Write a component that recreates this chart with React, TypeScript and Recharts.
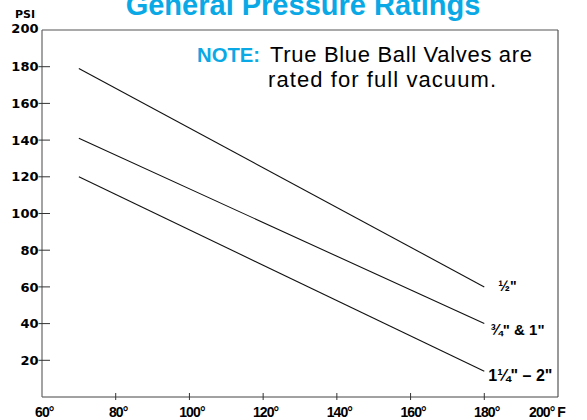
import React from 'react';
import { LineChart, Line, XAxis, YAxis, ReferenceLine } from 'recharts';

// Temperatures (°F) at which each rating line is drawn
const temps = [70, 180];
// Pressure ratings (PSI) per valve size
const halfInch = [179, 60];
const threeQuarterToOne = [141, 40];
const oneQuarterToTwo = [120, 14];
const seriesLabels = ['½"', '¾" & 1"', '1¼" – 2"'];
const xTicks = [60, 80, 100, 120, 140, 160, 180, 200];
const yTicks = [20, 40, 60, 80, 100, 120, 140, 160, 180, 200];

const data = temps.map((t, i) => ({
  temp: t,
  half: halfInch[i],
  tq: threeQuarterToOne[i],
  oq: oneQuarterToTwo[i],
}));

const BLUE = '#0AA9E6';

function XTick(props: any) {
  const { x, y, payload } = props;
  const v = payload.value;
  let tx = x + 2.5;
  let anchor: any = 'middle';
  let label = `${v}°`;
  if (v === 60) {
    tx = x - 7;
    anchor = 'start';
  }
  if (v === 200) {
    tx = x - 29;
    anchor = 'start';
    label = '200° F';
  }
  return (
    <g>
      {v !== 60 && v !== 200 && (
        <line x1={x} x2={x} y1={y - 4} y2={y + 3} stroke="#333" strokeWidth={1} />
      )}
      <text
        x={tx}
        y={y + 20}
        textAnchor={anchor}
        fontFamily="'Liberation Sans', Arial, sans-serif"
        fontWeight="bold"
        fontSize={14}
        letterSpacing={-0.9}
        fill="#000"
      >
        {label}
      </text>
    </g>
  );
}

function YTick(props: any) {
  const { x, y, payload } = props;
  const v = payload.value;
  return (
    <g>
      {v !== 200 && (
        <line x1={x - 3.5} x2={x + 8} y1={y} y2={y} stroke="#333" strokeWidth={1} />
      )}
      <text
        x={x - 3.5}
        y={v === 200 ? y + 3 : y + 4.6}
        textAnchor="end"
        fontFamily="'DejaVu Sans', sans-serif"
        fontWeight="bold"
        fontSize={13}
        fill="#000"
      >
        {v}
      </text>
    </g>
  );
}

function makeEndLabel(text: string, dx: number, dy: number, size: number) {
  return (p: any) => {
    if (p.index !== temps.length - 1) return <g />;
    return (
      <text
        x={p.x + dx}
        y={p.y + dy}
        fontFamily="'Liberation Sans', Arial, sans-serif"
        fontWeight="bold"
        fontSize={size}
        fill="#000"
      >
        {text}
      </text>
    );
  };
}

export default function App() {
  return (
    <div style={{ position: 'absolute', left: 0, top: 0, width: 587, height: 420, background: '#fff' }}>
      <LineChart
        width={587}
        height={420}
        data={data}
        margin={{ top: 30, right: 29, bottom: 0, left: 0 }}
      >
        <XAxis
          dataKey="temp"
          type="number"
          domain={[60, 200]}
          ticks={xTicks}
          interval={0}
          height={23}
          tickLine={false}
          tickSize={0}
          tickMargin={0}
          axisLine={{ stroke: '#444', strokeWidth: 1 }}
          tick={<XTick />}
        />
        <YAxis
          type="number"
          domain={[0, 200]}
          ticks={yTicks}
          interval={0}
          width={42}
          tickLine={false}
          tickSize={0}
          tickMargin={0}
          axisLine={{ stroke: '#666', strokeWidth: 1.2 }}
          tick={<YTick />}
        />
        <ReferenceLine y={200} stroke="#555" strokeWidth={1.2} />
        <ReferenceLine x={200} stroke="#555" strokeWidth={1.2} />
        <Line
          dataKey="half"
          stroke="#111"
          strokeWidth={1.1}
          dot={false}
          isAnimationActive={false}
          label={makeEndLabel(seriesLabels[0], 14, 4, 14)}
        />
        <Line
          dataKey="tq"
          stroke="#111"
          strokeWidth={1.1}
          dot={false}
          isAnimationActive={false}
          label={makeEndLabel(seriesLabels[1], 6, 11, 15)}
        />
        <Line
          dataKey="oq"
          stroke="#111"
          strokeWidth={1.1}
          dot={false}
          isAnimationActive={false}
          label={makeEndLabel(seriesLabels[2], 4, 10, 16)}
        />
      </LineChart>
      <svg
        width={587}
        height={420}
        style={{ position: 'absolute', left: 0, top: 0, pointerEvents: 'none' }}
      >
        <text
          x={303}
          y={15}
          textAnchor="middle"
          fontFamily="'Liberation Sans', Arial, sans-serif"
          fontWeight="bold"
          fontSize={29}
          fill={BLUE}
        >
          General Pressure Ratings
        </text>
        <text
          x={15}
          y={18}
          fontFamily="'DejaVu Sans', sans-serif"
          fontWeight="bold"
          fontSize={11}
          fill="#000"
        >
          PSI
        </text>
        <text
          x={197}
          y={62}
          fontFamily="'Liberation Sans', Arial, sans-serif"
          fontWeight="bold"
          fontSize={21}
          fill={BLUE}
          textLength={63}
          lengthAdjust="spacingAndGlyphs"
        >
          NOTE:
        </text>
        <text
          x={270}
          y={62}
          fontFamily="'Liberation Sans', Arial, sans-serif"
          fontSize={22}
          fill="#000"
          textLength={262}
          lengthAdjust="spacing"
        >
          True Blue Ball Valves are
        </text>
        <text
          x={268}
          y={87}
          fontFamily="'Liberation Sans', Arial, sans-serif"
          fontSize={22}
          fill="#000"
          textLength={228}
          lengthAdjust="spacing"
        >
          rated for full vacuum.
        </text>
      </svg>
    </div>
  );
}
